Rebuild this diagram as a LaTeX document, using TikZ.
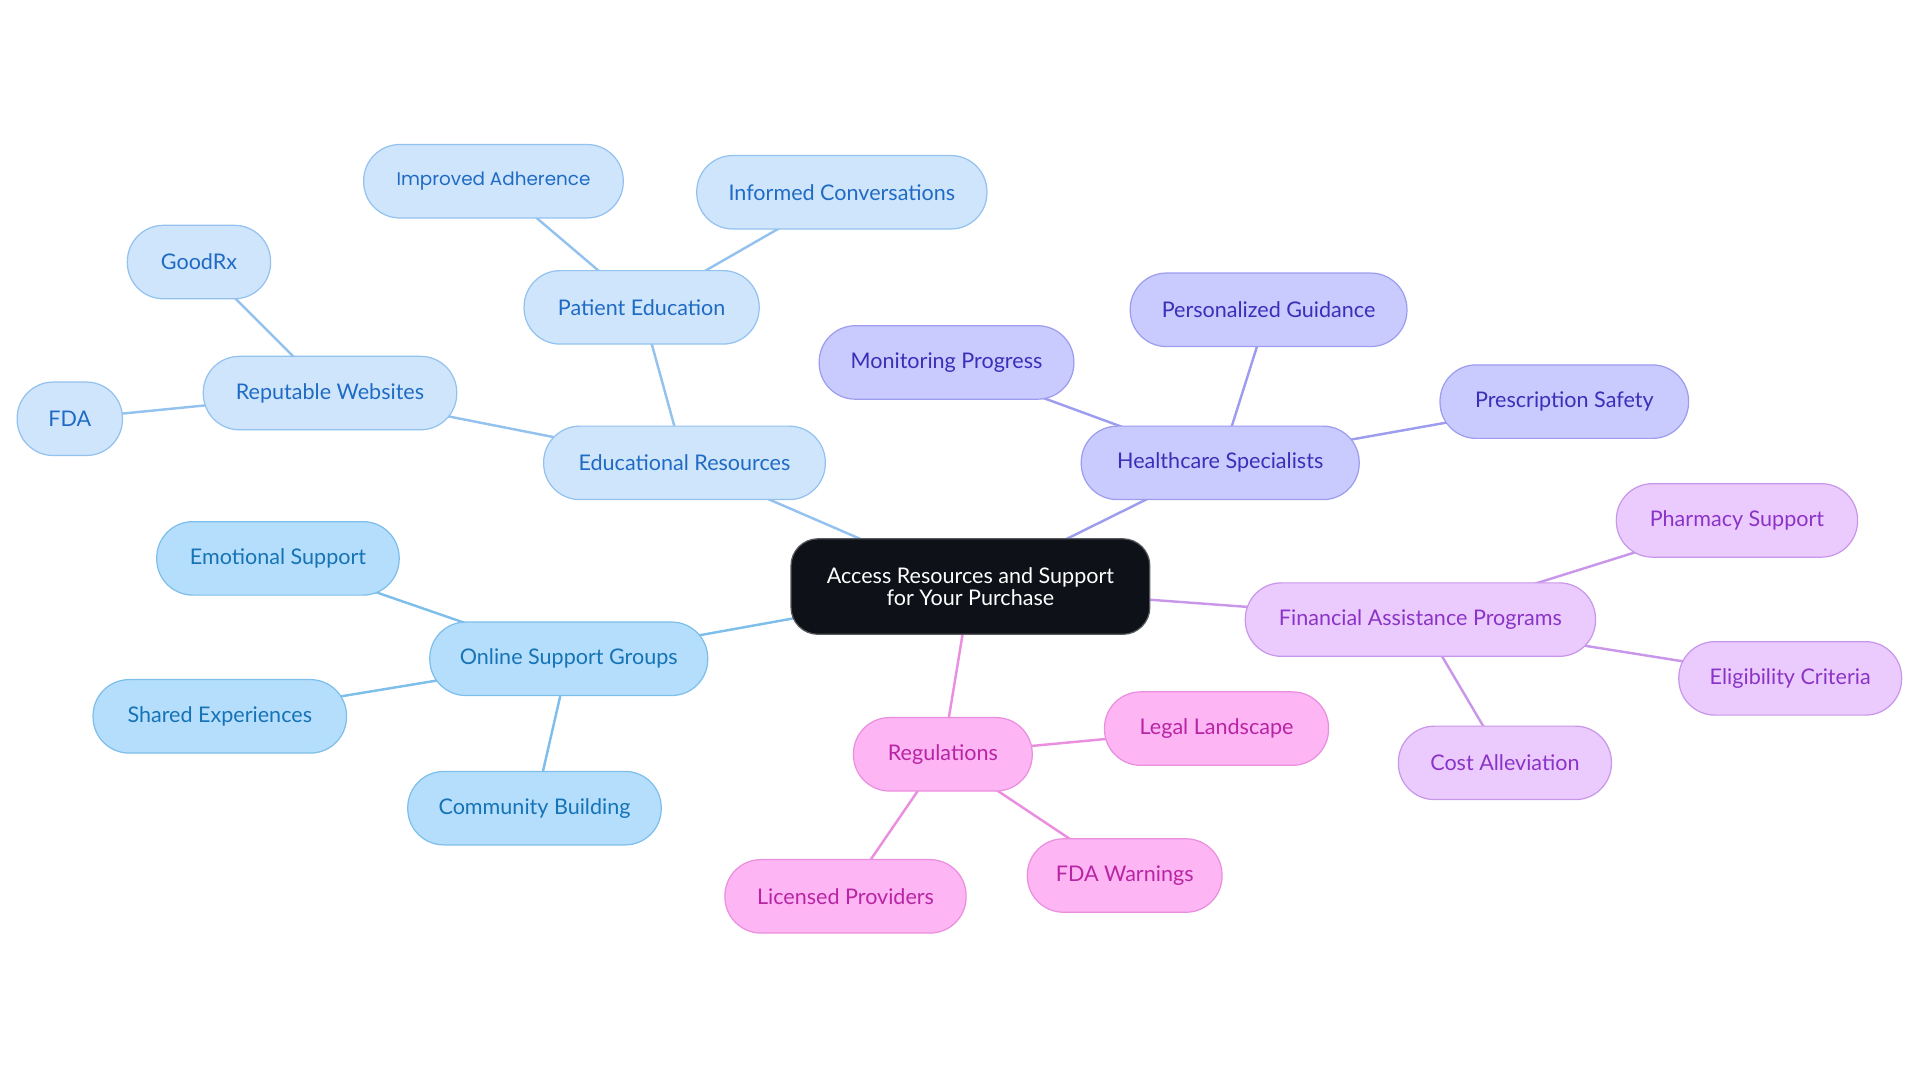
\documentclass[tikz,border=0pt]{standalone}
\usepackage{fontspec}
\setmainfont{Lato}
\newfontfamily\popfont{Poppins}
\usetikzlibrary{backgrounds}
\definecolor{eduFill}{HTML}{CFE5FC}
\definecolor{eduLine}{HTML}{94C2EF}
\definecolor{eduText}{HTML}{1F6BC4}
\definecolor{onlFill}{HTML}{B5DEFC}
\definecolor{onlLine}{HTML}{7DBFEA}
\definecolor{onlText}{HTML}{1673B5}
\definecolor{hcFill}{HTML}{C9CAFD}
\definecolor{hcLine}{HTML}{9D9DF0}
\definecolor{hcText}{HTML}{3A2FB8}
\definecolor{finFill}{HTML}{EBCBFD}
\definecolor{finLine}{HTML}{C897EA}
\definecolor{finText}{HTML}{8B33C7}
\definecolor{regFill}{HTML}{FDB5F3}
\definecolor{regLine}{HTML}{EA8FDF}
\definecolor{regText}{HTML}{B824A4}
\definecolor{rootFill}{HTML}{0E1218}
\tikzset{
  pill/.style={rectangle, rounded corners=29.5pt, minimum height=60pt, inner sep=0pt, line width=1pt,
    font=\fontsize{17.6}{20}\selectfont},
  edu/.style={pill, fill=eduFill, draw=eduLine, text=eduText},
  onl/.style={pill, fill=onlFill, draw=onlLine, text=onlText},
  hc/.style={pill, fill=hcFill, draw=hcLine, text=hcText},
  fin/.style={pill, fill=finFill, draw=finLine, text=finText},
  reg/.style={pill, fill=regFill, draw=regLine, text=regText},
  rootnode/.style={rectangle, rounded corners=22pt, fill=rootFill, draw=rootFill!70!white, line width=1pt,
    text=white, minimum width=293pt, minimum height=78pt, align=center, inner sep=0pt,
    font=\fontsize{17.6}{18}\selectfont},
  link/.style={line width=2pt}
}
\begin{document}
\begin{tikzpicture}[x=1pt,y=-1pt]
\useasboundingbox (0,0) rectangle (1568,884.5);
\node[rootnode] (root) at (792.5,479) {Access Resources and Support\\for Your Purchase};
% Educational
\node[edu, minimum width=230pt] (er) at (559,378) {Educational Resources};
\node[edu, minimum width=192pt] (pe) at (524,251) {Patient Education};
\node[edu, minimum width=212pt, font=\popfont\fontsize{15}{20}\selectfont] (ia) at (403,148) {Improved Adherence};
\node[edu, minimum width=237pt] (ic) at (687.5,157) {Informed Conversations};
\node[edu, minimum width=207pt] (rw) at (269.5,321) {Reputable Websites};
\node[edu, minimum width=117pt] (gr) at (162.5,214) {GoodRx};
\node[edu, minimum width=86pt] (fda) at (57,342) {FDA};
% Online
\node[onl, minimum width=227pt] (osg) at (464.5,538) {Online Support Groups};
\node[onl, minimum width=198pt] (es) at (227,456) {Emotional Support};
\node[onl, minimum width=207pt] (se) at (179.5,585) {Shared Experiences};
\node[onl, minimum width=207pt] (cb) at (436.5,660) {Community Building};
% Healthcare
\node[hc, minimum width=227pt] (hs) at (996.5,378) {Healthcare Specialists};
\node[hc, minimum width=208pt] (mp) at (773,296) {Monitoring Progress};
\node[hc, minimum width=226pt] (pg) at (1036,253) {Personalized Guidance};
\node[hc, minimum width=203pt] (ps) at (1277.5,328) {Prescription Safety};
% Financial
\node[fin, minimum width=286pt] (fap) at (1160,506) {Financial Assistance Programs};
\node[fin, minimum width=197pt] (phs) at (1418.5,425) {Pharmacy Support};
\node[fin, minimum width=182pt] (ec) at (1462,554) {Eligibility Criteria};
\node[fin, minimum width=174pt] (ca) at (1229,623) {Cost Alleviation};
% Regulations
\node[reg, minimum width=146pt] (rg) at (770,616) {Regulations};
\node[reg, minimum width=183pt] (ll) at (993.5,595) {Legal Landscape};
\node[reg, minimum width=159pt] (fw) at (918.5,715) {FDA Warnings};
\node[reg, minimum width=197pt] (lp) at (690.5,732) {Licensed Providers};
\begin{pgfonlayer}{background}
\draw[link, eduLine] (root.center) -- (er.center);
\draw[link, eduLine] (er.center) -- (pe.center);
\draw[link, eduLine] (pe.center) -- (ia.center);
\draw[link, eduLine] (pe.center) -- (ic.center);
\draw[link, eduLine] (er.center) -- (rw.center);
\draw[link, eduLine] (rw.center) -- (gr.center);
\draw[link, eduLine] (rw.center) -- (fda.center);
\draw[link, onlLine] (root.center) -- (osg.center);
\draw[link, onlLine] (osg.center) -- (es.center);
\draw[link, onlLine] (osg.center) -- (se.center);
\draw[link, onlLine] (osg.center) -- (cb.center);
\draw[link, hcLine] (root.center) -- (hs.center);
\draw[link, hcLine] (hs.center) -- (mp.center);
\draw[link, hcLine] (hs.center) -- (pg.center);
\draw[link, hcLine] (hs.center) -- (ps.center);
\draw[link, finLine] (root.center) -- (fap.center);
\draw[link, finLine] (fap.center) -- (phs.center);
\draw[link, finLine] (fap.center) -- (ec.center);
\draw[link, finLine] (fap.center) -- (ca.center);
\draw[link, regLine] (root.center) -- (rg.center);
\draw[link, regLine] (rg.center) -- (ll.center);
\draw[link, regLine] (rg.center) -- (fw.center);
\draw[link, regLine] (rg.center) -- (lp.center);
\end{pgfonlayer}
\end{tikzpicture}
\end{document}
